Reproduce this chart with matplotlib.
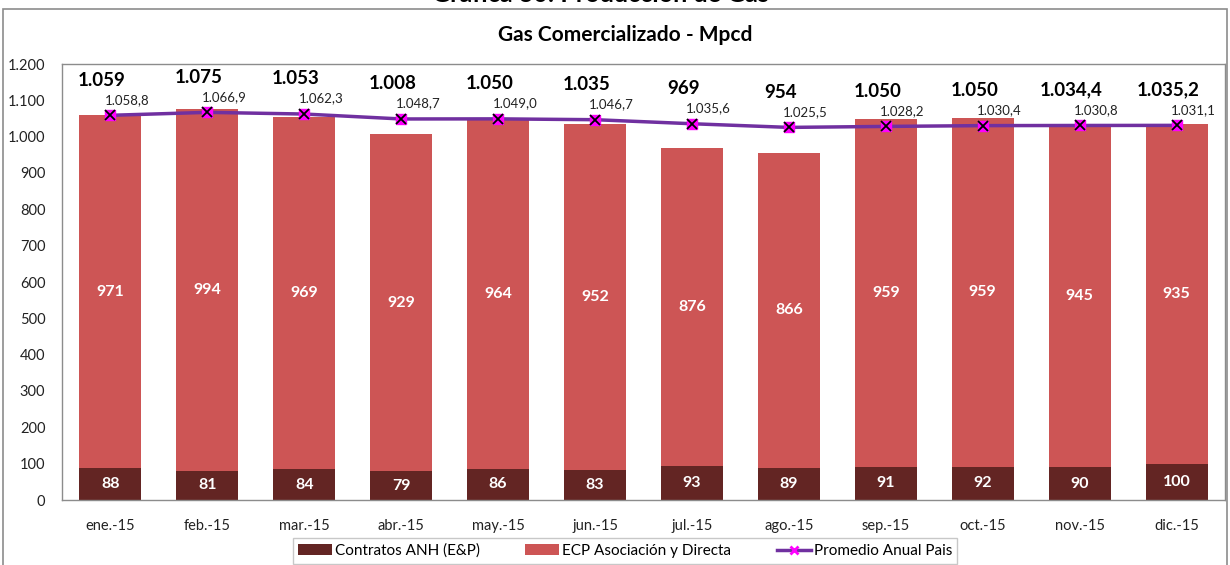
import matplotlib.pyplot as plt
import numpy as np
from matplotlib.patches import Rectangle

plt.rcParams['font.family'] = ['Lato', 'DejaVu Sans']

meses = ['ene.-15', 'feb.-15', 'mar.-15', 'abr.-15', 'may.-15', 'jun.-15',
         'jul.-15', 'ago.-15', 'sep.-15', 'oct.-15', 'nov.-15', 'dic.-15']
anh = [88, 81, 84, 79, 86, 83, 93, 89, 91, 92, 90, 100]
ecp = [971, 994, 969, 929, 964, 952, 876, 866, 959, 959, 945, 935]
promedio = [1058.8, 1066.9, 1062.3, 1048.7, 1049.0, 1046.7,
            1035.6, 1025.5, 1028.2, 1030.4, 1030.8, 1031.1]
totales = ['1.059', '1.075', '1.053', '1.008', '1.050', '1.035',
           '969', '954', '1.050', '1.050', '1.034,4', '1.035,2']
yticks = [0, 100, 200, 300, 400, 500, 600, 700, 800, 900, 1000, 1100, 1200]


def fmt_es(v, dec=0):
    s = f"{v:,.{dec}f}"
    return s.replace(',', 'X').replace('.', ',').replace('X', '.')


c_anh = '#632523'
c_ecp = '#CD5555'
c_line = '#7030A0'

fig = plt.figure(figsize=(12.3, 5.65), dpi=100)
ax = fig.add_axes([62 / 1230, 1 - 500 / 565, (1225 - 62) / 1230, 436 / 565])

x = np.arange(len(meses))
w = 0.64
b1 = ax.bar(x, anh, w, color=c_anh, zorder=2)
b2 = ax.bar(x, ecp, w, bottom=anh, color=c_ecp, zorder=2)
ax.plot(x, promedio, color=c_line, lw=2.5, zorder=3)
ax.plot(x, promedio, ls='none', marker='s', ms=7, mfc='#FF00FF', mec='#FF00FF', zorder=4)
ax.plot(x, promedio, ls='none', marker='x', ms=7, mew=1.3, color='black', zorder=5)
# legend proxy for line
ln, = ax.plot([], [], color=c_line, lw=2.5, marker='x', ms=6, mew=2, mec='#FF00FF')

for i in range(len(meses)):
    ax.text(x[i], anh[i] / 2, str(anh[i]), ha='center', va='center',
            color='white', fontsize=11.5, fontweight='bold', zorder=6)
    ax.text(x[i], anh[i] + ecp[i] / 2, str(ecp[i]), ha='center', va='center',
            color='white', fontsize=11.5, fontweight='bold', zorder=6)
    ax.annotate(totales[i], (x[i], promedio[i] + 97), xytext=(-6, 0),
                textcoords='offset points', ha='center', va='center',
                fontsize=13.5, fontweight='bold', color='black', zorder=6)
    ax.annotate(fmt_es(promedio[i], 1), (x[i], promedio[i] + 43), xytext=(12, 0),
                textcoords='offset points', ha='center', va='center',
                fontsize=9.5, color='#222222', zorder=6)

ax.set_xlim(-0.5, 11.5)
ax.set_ylim(0, 1200)
ax.set_yticks(yticks)
ax.set_yticklabels([fmt_es(v) for v in yticks])
ax.set_xticks(x)
ax.set_xticklabels(meses)
ax.tick_params(axis='both', length=0, labelsize=10.5, colors='#222222')
ax.tick_params(axis='x', pad=14)
ax.tick_params(axis='y', pad=12)
for s in ax.spines.values():
    s.set_color('#8C8C8C')
    s.set_linewidth(1)

leg = fig.legend([b1, b2, ln],
                 ['Contratos ANH (E&P)', 'ECP Asociación y Directa', 'Promedio Anual Pais'],
                 loc='center', bbox_to_anchor=(625 / 1230, 1 - 551 / 565), ncol=3,
                 fontsize=11, frameon=True, fancybox=False, edgecolor='#BBBBBB',
                 handlelength=2.2, handletextpad=0.2, columnspacing=3.0,
                 borderpad=0.35, borderaxespad=0)
leg.get_frame().set_linewidth(1)

fig.patches.append(Rectangle((3 / 1230, -0.05), 1224 / 1230, 1.05 - 9 / 565,
                             transform=fig.transFigure, fill=False,
                             edgecolor='#8C8C8C', lw=1.2, zorder=0))

fig.text(625 / 1230, 1 - 35 / 565, 'Gas Comercializado - Mpcd', ha='center',
         va='center', fontsize=15, fontweight='bold')
fig.text(600 / 1230, 1 + 6 / 565, 'Gráfica 30: Producción de Gas', ha='center',
         va='center', fontsize=18, fontweight='bold')

fig.savefig('out.png', dpi=100)
